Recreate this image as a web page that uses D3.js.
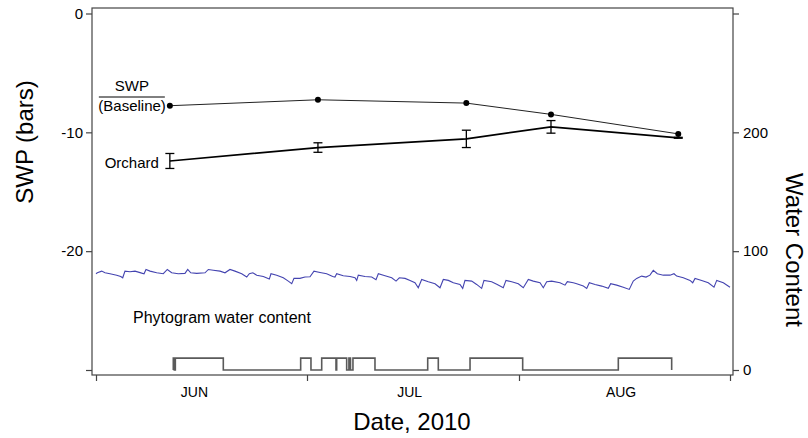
<!DOCTYPE html>
<html>
<head>
<meta charset="utf-8">
<script src="https://cdn.jsdelivr.net/npm/d3@7"></script>
<style>
  body { margin: 0; background: #fff; }
  svg { display: block; font-family: Arial, "Liberation Sans", sans-serif; }
</style>
</head>
<body>
<div id="chart"></div>
<script>
// x unit: days since 1 June 2010
var monthStarts = [0, 30, 61, 92];
var monthNames = ["JUN", "JUL", "AUG"];
var monthLabelDays = [14, 45, 76];

// SWP sampling dates and values (bars)
var swpDays = [10.5, 31.6, 53.3, 65.7, 84.4];
var baselineSwp = [-7.76, -7.26, -7.54, -8.49, -10.13];
var orchardSwp = [-12.41, -11.28, -10.55, -9.54, -10.46];
var orchardErr = [0.63, 0.4, 0.73, 0.53, 0.04];

var swpTicks = [0, -10, -20, -30];
var waterTicks = [0, 100, 200, 300];

// phytogram water content
var waterDays = [0, 0.19, 0.81, 1.28, 1.99, 2.94, 3.51, 3.8, 4.12, 4.83, 5.55, 6.5, 6.83, 7.11, 7.68, 8.63,
  9.57, 10.14, 10.76, 11.7, 12.65, 13.04, 13.47, 14.32, 15.5, 15.97, 16.68, 17.63, 18.34, 19.05, 19.76,
  20.72, 21.43, 21.8, 22.3, 22.85, 23.79, 24.64, 24.88, 25.69, 26.63, 27.34, 27.83, 28.15, 29.0, 29.72,
  30.44, 31.02, 31.9, 32.88, 33.76, 34.09, 34.34, 35.3, 36.29, 37.02, 37.27, 37.5, 38.48, 39.46, 40.09,
  40.43, 41.41, 42.39, 43.02, 43.5, 44.34, 45.07, 45.79, 46.27, 46.77, 47.74, 48.72, 49.45, 49.93, 50.67,
  51.4, 52.37, 52.77, 53.1, 54.08, 54.81, 55.54, 55.88, 57.0, 57.82, 58.7, 59.1, 59.93, 60.9, 61.63,
  62.37, 63.1, 64.09, 64.57, 65.07, 65.8, 67.02, 67.76, 68.1, 68.98, 69.48, 70.45, 70.95, 71.33, 72.17,
  73.15, 74.12, 74.47, 75.35, 76.32, 77.2, 77.79, 78.29, 79.02, 79.66, 80.24, 80.73, 81.32, 82.2, 83.19,
  83.77, 84.17, 85.14, 86.13, 86.52, 86.86, 87.84, 88.81, 89.65, 90.05, 91.02, 92.0];
var waterValues = [81.0, 81.8, 83.2, 81.8, 81.0, 79.8, 78.7, 77.6, 83.2, 82.7, 83.2, 81.5, 81.0, 84.6, 83.2, 81.8,
  81.0, 84.6, 81.8, 81.0, 81.3, 84.6, 81.8, 81.3, 81.8, 84.6, 84.0, 83.2, 81.8, 84.6, 83.2,
  81.0, 78.2, 81.0, 81.8, 79.8, 78.7, 76.5, 81.0, 79.8, 77.6, 74.8, 72.6, 77.1, 77.1, 78.2,
  78.5, 83.2, 82.1, 81.0, 78.7, 78.2, 81.0, 79.3, 78.7, 77.6, 75.4, 79.8, 78.7, 78.2, 76.0,
  81.0, 79.3, 77.6, 74.8, 77.6, 77.1, 75.4, 73.4, 69.2, 76.2, 74.3, 72.6, 69.2, 76.2, 75.4,
  73.4, 72.0, 68.7, 75.4, 74.8, 72.0, 68.7, 75.4, 74.3, 72.0, 69.2, 75.4, 74.3, 72.6, 69.2,
  76.2, 74.8, 73.4, 69.2, 74.3, 74.8, 73.4, 71.4, 74.3, 73.4, 72.6, 70.6, 68.7, 73.4, 72.0,
  70.6, 68.7, 72.6, 71.4, 69.7, 67.8, 74.8, 77.1, 79.0, 78.2, 79.8, 83.8, 81.0, 79.8, 79.8,
  81.0, 79.0, 77.6, 75.4, 73.4, 77.1, 75.4, 73.4, 69.7, 75.4, 73.4, 69.7];

// on/off step trace at the bottom (water content scale)
var stepDays = [10.99, 10.99, 11.13, 11.28, 18.1, 29.1, 30.58, 32.15, 34.24, 34.34, 35.8, 36.13, 36.36, 36.72,
  39.94, 47.65, 49.2, 53.84, 61.54, 75.59, 83.43];
var stepValues = [0, 10, 0, 10, 0, 10, 0, 10, 0, 10, 0, 10, 0, 10, 0, 10, 0, 10, 0, 10, 0];

var width = 808, height = 438;
var plotLeft = 92, plotRight = 733, plotTop = 8, plotBottom = 375;
var axisColor = "#444";

var svg = d3.select("#chart").append("svg")
  .attr("width", width)
  .attr("height", height);

var x = d3.scaleLinear().domain(monthStarts).range([96, 307, 519, 730]);
var ySwp = d3.scaleLinear().domain([0, -30]).range([13.5, 370]);
var yWater = d3.scaleLinear().domain([0, 300]).range([370, 13.5]);

// frame
svg.append("rect")
  .attr("x", plotLeft).attr("y", plotTop)
  .attr("width", plotRight - plotLeft).attr("height", plotBottom - plotTop)
  .attr("fill", "none")
  .attr("stroke", axisColor)
  .attr("stroke-width", 1.2);

// axes
var leftAxis = svg.append("g")
  .attr("transform", "translate(" + plotLeft + ",0)")
  .call(d3.axisLeft(ySwp).tickValues(swpTicks).tickSize(6).tickPadding(3)
    .tickFormat(d => d === -30 ? "" : String(d)));

var rightAxis = svg.append("g")
  .attr("transform", "translate(" + plotRight + ",0)")
  .call(d3.axisRight(yWater).tickValues(waterTicks).tickSize(6).tickPadding(4)
    .tickFormat(d => d === 300 ? "" : String(d)));

var bottomAxis = svg.append("g")
  .attr("transform", "translate(0," + plotBottom + ")")
  .call(d3.axisBottom(x).tickValues(monthStarts).tickSize(6).tickFormat(""));

[leftAxis, rightAxis, bottomAxis].forEach(function(g) {
  g.select(".domain").remove();
  g.selectAll(".tick line").attr("stroke", axisColor).attr("stroke-width", 1.2);
  g.selectAll(".tick text")
    .attr("fill", "#000")
    .style("font-size", "15px")
    .style("font-family", "Arial, 'Liberation Sans', sans-serif");
});

svg.selectAll(".month")
  .data(monthNames)
  .enter().append("text")
  .attr("class", "month")
  .attr("x", (d, i) => x(monthLabelDays[i]))
  .attr("y", 397)
  .attr("text-anchor", "middle")
  .style("font-size", "14px")
  .text(d => d);

// axis titles
svg.append("text")
  .attr("x", 412)
  .attr("y", 430)
  .attr("text-anchor", "middle")
  .style("font-size", "24px")
  .text("Date, 2010");

svg.append("text")
  .attr("transform", "translate(33,142) rotate(-90)")
  .attr("text-anchor", "middle")
  .style("font-size", "24px")
  .text("SWP (bars)");

svg.append("text")
  .attr("transform", "translate(786,250) rotate(90)")
  .attr("text-anchor", "middle")
  .style("font-size", "24px")
  .text("Water Content");

// step trace
var stepData = stepDays.map((d, i) => ({day: d, value: stepValues[i]}));
svg.append("path")
  .datum(stepData)
  .attr("fill", "none")
  .attr("stroke", "#5a5a5a")
  .attr("stroke-width", 1.6)
  .attr("d", d3.line().curve(d3.curveStepAfter)
    .x(d => x(d.day)).y(d => yWater(d.value)));

// water content trace
var waterData = waterDays.map((d, i) => ({day: d, value: waterValues[i]}));
svg.append("path")
  .datum(waterData)
  .attr("fill", "none")
  .attr("stroke", "#4444b0")
  .attr("stroke-width", 1.1)
  .attr("d", d3.line().x(d => x(d.day)).y(d => yWater(d.value)));

// baseline SWP
var baseData = swpDays.map((d, i) => ({day: d, value: baselineSwp[i]}));
svg.append("path")
  .datum(baseData)
  .attr("fill", "none")
  .attr("stroke", "#222")
  .attr("stroke-width", 1)
  .attr("d", d3.line().x(d => x(d.day)).y(d => ySwp(d.value)));

svg.selectAll(".basedot")
  .data(baseData)
  .enter().append("circle")
  .attr("class", "basedot")
  .attr("cx", d => x(d.day))
  .attr("cy", d => ySwp(d.value))
  .attr("r", 3)
  .attr("fill", "#000");

// orchard SWP with error bars
var orchData = swpDays.map((d, i) => ({day: d, value: orchardSwp[i], err: orchardErr[i]}));
svg.append("path")
  .datum(orchData)
  .attr("fill", "none")
  .attr("stroke", "#000")
  .attr("stroke-width", 1.7)
  .attr("d", d3.line().x(d => x(d.day)).y(d => ySwp(d.value)));

var bars = svg.selectAll(".errbar")
  .data(orchData)
  .enter().append("g")
  .attr("class", "errbar")
  .attr("stroke", "#000")
  .attr("stroke-width", 1.3);

bars.append("line")
  .attr("x1", d => x(d.day)).attr("x2", d => x(d.day))
  .attr("y1", d => ySwp(d.value + d.err)).attr("y2", d => ySwp(d.value - d.err));
bars.append("line")
  .attr("x1", d => x(d.day) - 4.5).attr("x2", d => x(d.day) + 4.5)
  .attr("y1", d => ySwp(d.value + d.err)).attr("y2", d => ySwp(d.value + d.err));
bars.append("line")
  .attr("x1", d => x(d.day) - 4.5).attr("x2", d => x(d.day) + 4.5)
  .attr("y1", d => ySwp(d.value - d.err)).attr("y2", d => ySwp(d.value - d.err));

// series labels
var x0 = x(swpDays[0]);
svg.append("text")
  .attr("x", x0 - 38)
  .attr("y", 91)
  .attr("text-anchor", "middle")
  .style("font-size", "15px")
  .text("SWP");
svg.append("line")
  .attr("x1", x0 - 71).attr("x2", x0 - 5)
  .attr("y1", 97).attr("y2", 97)
  .attr("stroke", "#000").attr("stroke-width", 1);
svg.append("text")
  .attr("x", x0 - 4)
  .attr("y", ySwp(baselineSwp[0]) + 5)
  .attr("text-anchor", "end")
  .style("font-size", "15px")
  .text("(Baseline)");
svg.append("text")
  .attr("x", x0 - 11)
  .attr("y", ySwp(orchardSwp[0]) + 7)
  .attr("text-anchor", "end")
  .style("font-size", "15px")
  .text("Orchard");

svg.append("text")
  .attr("x", 133)
  .attr("y", 323)
  .style("font-size", "16px")
  .text("Phytogram water content");
</script>
</body>
</html>
